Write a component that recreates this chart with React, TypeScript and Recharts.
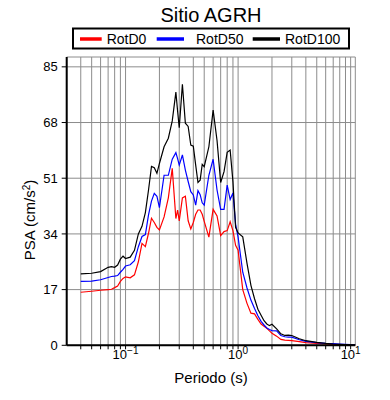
import { LineChart, Line, XAxis, YAxis, CartesianGrid } from "recharts";

// periodo (s)
const periods = [
  0.04, 0.05, 0.06, 0.07, 0.075, 0.08, 0.085, 0.09, 0.095, 0.1,
  0.11, 0.12, 0.13, 0.14, 0.15, 0.16, 0.17, 0.18, 0.19, 0.2,
  0.22, 0.24, 0.26, 0.28, 0.29, 0.3, 0.32, 0.34, 0.36, 0.38,
  0.4, 0.42, 0.44, 0.46, 0.48, 0.5, 0.55, 0.6, 0.65, 0.7,
  0.75, 0.8, 0.85, 0.9, 0.95, 1.0, 1.1, 1.2, 1.3, 1.4,
  1.5, 1.6, 1.7, 1.8, 1.9, 2.0, 2.2, 2.4, 2.6, 2.8,
  3.0, 3.5, 4.0, 5.0, 6.0, 7.0, 8.0, 10.0, 11.0,
];

const rotD0 = [
  16.2, 16.5, 16.8, 17.0, 17.1, 17.6, 18.1, 19.5, 20.4, 20.9,
  20.6, 21.5, 25.5, 31.1, 30.1, 34.2, 38.8, 37.5, 36.0, 35.2,
  39.2, 45.0, 54.0, 38.7, 41.3, 38.0, 45.0, 45.5, 38.0, 35.5,
  37.5, 40.0, 41.3, 41.3, 40.0, 37.8, 33.0, 41.5, 39.5, 33.5,
  34.7, 35.0, 37.7, 35.0, 30.5, 29.0, 17.0, 12.8, 9.8, 9.6,
  7.9, 6.5, 5.8, 5.2, 4.4, 3.7, 2.8, 1.8, 1.6, 1.5,
  1.4, 1.1, 0.8, 0.6, 0.4, 0.3, 0.2, 0.1, 0.1,
];

const rotD50 = [
  19.5, 19.6, 20.0, 20.7, 21.0, 21.1, 21.3, 22.3, 23.2, 24.2,
  24.6, 25.8, 30.1, 33.2, 33.8, 39.8, 44.0, 46.4, 45.5, 42.0,
  51.9, 51.9, 56.8, 58.8, 57.0, 55.0, 58.1, 53.5, 50.0, 46.9,
  45.9, 42.8, 47.2, 46.0, 43.5, 42.8, 51.9, 56.8, 47.4, 41.5,
  41.5, 48.9, 44.5, 46.5, 37.0, 33.0, 22.3, 17.5, 13.8, 11.2,
  9.0, 7.3, 6.2, 5.3, 4.8, 4.5, 4.4, 3.0, 2.6, 2.5,
  2.5, 1.7, 1.2, 0.8, 0.6, 0.5, 0.4, 0.25, 0.2,
];

const rotD100 = [
  21.8, 22.0, 22.5, 23.8, 24.0, 23.8, 24.5, 26.3, 27.2, 26.5,
  26.9, 29.0, 34.0, 36.3, 40.5, 47.4, 54.6, 54.2, 52.5, 55.5,
  60.6, 63.2, 68.5, 77.3, 71.5, 66.4, 79.7, 67.8, 66.8, 61.1,
  60.8, 55.0, 49.7, 50.4, 55.2, 54.5, 60.6, 71.8, 62.5, 49.7,
  53.0, 58.9, 59.6, 49.9, 36.0, 34.3, 33.1, 25.0, 18.3, 14.2,
  11.0, 9.2, 7.5, 6.5, 6.0, 6.4, 5.0, 3.5, 3.0, 3.1,
  3.0, 2.0, 1.4, 0.9, 0.6, 0.4, 0.3, 0.15, 0.1,
];

const yTicks = [0, 17, 34, 51, 68, 85];
const xTicks = [
  0.04, 0.05, 0.06, 0.07, 0.08, 0.09,
  0.1, 0.2, 0.3, 0.4, 0.5, 0.6, 0.7, 0.8, 0.9,
  1, 2, 3, 4, 5, 6, 7, 8, 9, 10,
];
const decadeExp: Record<string, string> = { "0.1": "\u22121", "1": "0", "10": "1" };

const data = periods.map((T, i) => ({
  T,
  rotD0: rotD0[i],
  rotD50: rotD50[i],
  rotD100: rotD100[i],
}));

const font = '"Liberation Sans", Arial, Helvetica, sans-serif';

function XTick(props: any) {
  const { x, y, payload } = props;
  const exp = decadeExp[String(payload.value)];
  if (exp === undefined) return null;
  return (
    <text x={x} y={y + 8} textAnchor="middle" fontSize={13} fill="#000" fontFamily={font}>
      10
      <tspan dy={-5} fontSize={10}>
        {exp}
      </tspan>
    </text>
  );
}

const axisLine = { stroke: "#000", strokeWidth: 2 };

export default function App() {
  return (
    <div style={{ position: "absolute", left: 0, top: 0, width: 390, height: 400, background: "#fff" }}>
      <LineChart
        width={390}
        height={400}
        data={data}
        margin={{ top: 57, right: 34.7, left: 26.7, bottom: 24.7 }}
      >
        <CartesianGrid stroke="#8c8c8c" strokeWidth={1} />
        <XAxis
          dataKey="T"
          type="number"
          scale="log"
          domain={[0.03, 11]}
          ticks={xTicks}
          interval={0}
          allowDataOverflow
          height={30}
          tickSize={4}
          tickMargin={2}
          axisLine={axisLine}
          tickLine={{ stroke: "#000" }}
          tick={<XTick />}
        />
        <XAxis
          xAxisId="top"
          orientation="top"
          dataKey="T"
          type="number"
          scale="log"
          domain={[0.03, 11]}
          ticks={xTicks}
          interval={0}
          allowDataOverflow
          height={0}
          tickSize={4}
          axisLine={axisLine}
          tickLine={{ stroke: "#000" }}
          tick={false}
        />
        <YAxis
          type="number"
          domain={[0, 88]}
          ticks={yTicks}
          interval={0}
          width={40}
          tickSize={5}
          tickMargin={4}
          axisLine={axisLine}
          tickLine={{ stroke: "#000" }}
          tick={{ fill: "#000", fontSize: 13, fontFamily: font }}
        />
        <YAxis
          yAxisId="right"
          orientation="right"
          type="number"
          domain={[0, 88]}
          ticks={yTicks}
          interval={0}
          width={0}
          tickSize={4}
          axisLine={axisLine}
          tickLine={{ stroke: "#000" }}
          tick={false}
        />
        <Line type="linear" dataKey="rotD0" stroke="#ff0000" strokeWidth={1.2} dot={false} isAnimationActive={false} />
        <Line type="linear" dataKey="rotD50" stroke="#0000ff" strokeWidth={1.2} dot={false} isAnimationActive={false} />
        <Line type="linear" dataKey="rotD100" stroke="#000000" strokeWidth={1.2} dot={false} isAnimationActive={false} />
      </LineChart>

      <svg
        width={390}
        height={400}
        style={{ position: "absolute", left: 0, top: 0, pointerEvents: "none" }}
        fontFamily={font}
      >
        <text x={211} y={22} textAnchor="middle" fontSize={20} fill="#000">
          Sitio AGRH
        </text>

        <rect x={73} y={28.5} width={276} height={20} fill="#fff" stroke="#000" strokeWidth={2} />
        <line x1={80} x2={101.7} y1={39} y2={39} stroke="#ff0000" strokeWidth={3.5} />
        <text x={106.7} y={43.5} fontSize={14} fill="#000">RotD0</text>
        <line x1={156.7} x2={184} y1={39} y2={39} stroke="#0000ff" strokeWidth={3.5} />
        <text x={196} y={43.5} fontSize={14} fill="#000">RotD50</text>
        <line x1={252.7} x2={280} y1={39} y2={39} stroke="#000000" strokeWidth={3.5} />
        <text x={285} y={43.5} fontSize={14} fill="#000">RotD100</text>

        <text x={211} y={383} textAnchor="middle" fontSize={15} fill="#000">
          Periodo (s)
        </text>
        <text
          transform="translate(35, 220) rotate(-90)"
          textAnchor="middle"
          fontSize={15}
          fill="#000"
        >
          PSA (cm/s
          <tspan dy={-5} fontSize={10}>2</tspan>
          <tspan dy={5}>)</tspan>
        </text>
      </svg>
    </div>
  );
}
